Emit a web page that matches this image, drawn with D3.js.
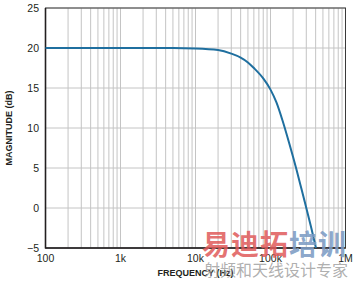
<!DOCTYPE html>
<html><head><meta charset="utf-8">
<script src="https://cdn.jsdelivr.net/npm/d3@7"></script>
<style>body{margin:0;background:#fff}svg{display:block}</style>
</head><body>
<svg id="c" width="357" height="281"></svg>
<script>
const freq = [100, 1000, 5000, 10000, 20000, 30000, 40000, 50000, 60000, 80000, 100000, 120000, 145000, 180000, 222000, 260000, 302000, 350000, 404000];
const magnitude = [20, 20, 20, 19.95, 19.75, 19.3, 18.8, 18.2, 17.5, 16.2, 14.8, 13.2, 10.9, 7.9, 4.8, 2.3, -0.1, -2.5, -5];
const xTicks = [100, 1000, 10000, 100000, 1000000];
const xTickLabels = ["100", "1k", "10k", "100k", "1M"];
const yTicks = [-5, 0, 5, 10, 15, 20, 25];

const svg = d3.select("#c");
const L = 45.5, R = 345.5, T = 8, B = 248;
const x = d3.scaleLog().domain([100, 1e6]).range([L, R]);
const y = d3.scaleLinear().domain([-5, 25]).range([B, T]);
const font = "'Liberation Sans', Arial, Helvetica, sans-serif";

// minor vertical grid
const minor = [];
for (let d = 100; d < 1e6; d *= 10) for (let m = 2; m <= 9; m++) minor.push(d * m);
svg.append("g").selectAll("line").data(minor.concat(xTicks)).join("line")
  .attr("x1", d => x(d)).attr("x2", d => x(d)).attr("y1", T).attr("y2", B)
  .attr("stroke", "#c4c4c4").attr("stroke-width", 1);
svg.append("g").selectAll("line").data(yTicks).join("line")
  .attr("x1", L).attr("x2", R).attr("y1", d => y(d)).attr("y2", d => y(d))
  .attr("stroke", "#c4c4c4").attr("stroke-width", 1);

// frame
svg.append("rect").attr("x", L).attr("y", T).attr("width", R - L).attr("height", B - T)
  .attr("fill", "none").attr("stroke", "#3a3a3a").attr("stroke-width", 1);
svg.append("line").attr("x1", L).attr("x2", L).attr("y1", T).attr("y2", B + 0.5).attr("stroke", "#231f20").attr("stroke-width", 1.6);
svg.append("line").attr("x1", L).attr("x2", R).attr("y1", B).attr("y2", B).attr("stroke", "#231f20").attr("stroke-width", 1.6);

// curve
const line = d3.line().x((d, i) => x(freq[i])).y(d => y(d)).curve(d3.curveMonotoneX);
svg.append("path").datum(magnitude).attr("d", line)
  .attr("fill", "none").attr("stroke", "#1f6f9f").attr("stroke-width", 2);

// tick labels
svg.append("g").selectAll("text").data(yTicks).join("text")
  .attr("x", 39).attr("y", d => y(d) + 3.8).attr("text-anchor", "end")
  .attr("font-family", font).attr("font-size", 10.5).attr("fill", "#231f20").text(d => d < 0 ? "\u2212" + Math.abs(d) : d);
svg.append("g").selectAll("text").data(xTicks).join("text")
  .attr("x", d => x(d)).attr("y", 262).attr("text-anchor", "middle")
  .attr("font-family", font).attr("font-size", 10.5).attr("fill", "#231f20").text((d, i) => xTickLabels[i]);

// axis titles
svg.append("text").attr("x", 195.5).attr("y", 276).attr("text-anchor", "middle")
  .attr("font-family", font).attr("font-size", 9).attr("font-weight", "bold").attr("fill", "#231f20").text("FREQUENCY (Hz)");
svg.append("text").attr("transform", "translate(12,128) rotate(-90)").attr("text-anchor", "middle")
  .attr("font-family", font).attr("font-size", 9).attr("font-weight", "bold").attr("fill", "#231f20").text("MAGNITUDE (dB)");

// watermark
const cjk = "'Noto Sans CJK SC', sans-serif";
const wm = svg.append("text").attr("x", 202).attr("y", 255).attr("font-family", cjk)
  .attr("font-size", 28).attr("font-weight", "bold").attr("letter-spacing", 1);
wm.append("tspan").attr("fill", "#e05a5a").attr("fill-opacity", 0.85).text("易迪拓");
wm.append("tspan").attr("fill", "#7d9cc4").attr("fill-opacity", 0.9).text("培训");
svg.append("text").attr("x", 204).attr("y", 276).attr("font-family", cjk)
  .attr("font-size", 16).attr("fill", "#9a9a9a").attr("fill-opacity", 0.8).text("射频和天线设计专家");
</script>
</body></html>
